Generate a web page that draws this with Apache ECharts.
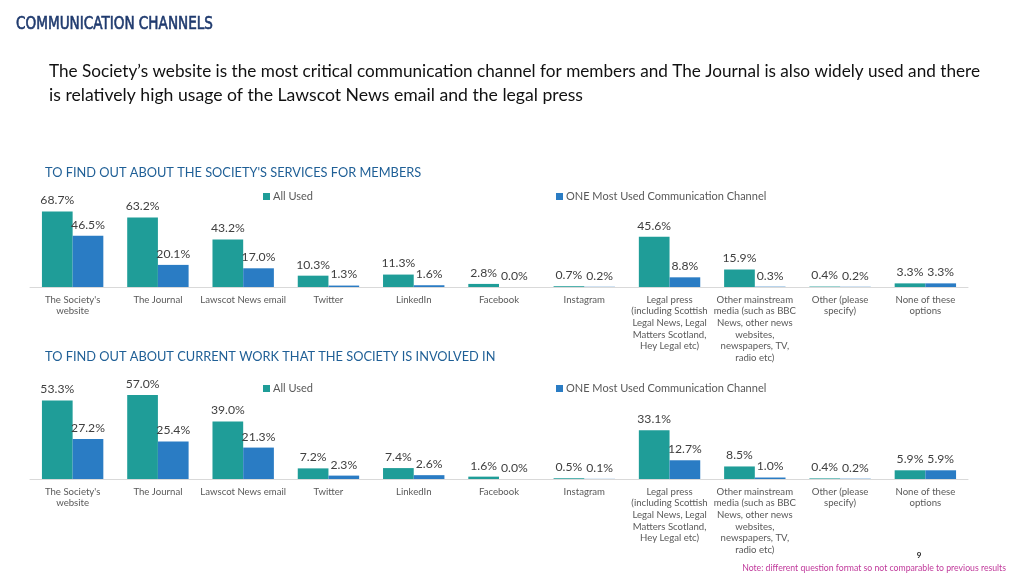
<!DOCTYPE html>
<html><head><meta charset="utf-8">
<script src="https://cdn.jsdelivr.net/npm/echarts@6/dist/echarts.min.js"></script>
<style>html,body{margin:0;padding:0;background:#fff}#c{width:1024px;height:576px}</style>
</head><body><div id="c"></div>
<script>
var categories = [
  "The Society's\nwebsite", "The Journal", "Lawscot News email", "Twitter", "LinkedIn",
  "Facebook", "Instagram",
  "Legal press\n(including Scottish\nLegal News, Legal\nMatters Scotland,\nHey Legal etc)",
  "Other mainstream\nmedia (such as BBC\nNews, other news\nwebsites,\nnewspapers, TV,\nradio etc)",
  "Other (please\nspecify)", "None of these\noptions"
];
var seriesNames = ["All Used", "ONE Most Used Communication Channel"];
var servicesAll = [68.7, 63.2, 43.2, 10.3, 11.3, 2.8, 0.7, 45.6, 15.9, 0.4, 3.3];
var servicesOne = [46.5, 20.1, 17.0, 1.3, 1.6, 0.0, 0.2, 8.8, 0.3, 0.2, 3.3];
var workAll = [53.3, 57.0, 39.0, 7.2, 7.4, 1.6, 0.5, 33.1, 8.5, 0.4, 5.9];
var workOne = [27.2, 25.4, 21.3, 2.3, 2.6, 0.0, 0.1, 12.7, 1.0, 0.2, 5.9];
var mainTitle = "COMMUNICATION CHANNELS";
var subtitle1 = "The Society\u2019s website is the most critical communication channel for members and The Journal is also widely used and there";
var subtitle2 = "is relatively high usage of the Lawscot News email and the legal press";
var section1 = "TO FIND OUT ABOUT THE SOCIETY'S SERVICES FOR MEMBERS";
var section2 = "TO FIND OUT ABOUT CURRENT WORK THAT THE SOCIETY IS INVOLVED IN";
var note = "Note: different question format so not comparable to previous results";
var pageNo = "9";

var TEAL = '#1F9D98', BLUE = '#2A7CC4';
var FONT = 'Lato, "Noto Sans", sans-serif';

// fit text to a target width by horizontal scaling (styling only)
var _cv = document.createElement('canvas').getContext('2d');
function fitScale(text, font, target) {
  _cv.font = font;
  var w = _cv.measureText(text).width;
  return w > 0 ? target / w : 1;
}

function xAxis(gi) {
  return {
    type: 'category', gridIndex: gi, data: categories,
    axisLine: { lineStyle: { color: '#D9D9D9', width: 1 } },
    axisTick: { show: false },
    axisLabel: { interval: 0, fontSize: 9.6, color: '#595959', lineHeight: 11.6, margin: 7, fontFamily: FONT }
  };
}
function yAxis(gi, max) {
  return { type: 'value', gridIndex: gi, min: 0, max: max, show: false, splitLine: { show: false } };
}
function bar(name, data, gi, color) {
  return {
    type: 'bar', name: name, data: data, xAxisIndex: gi, yAxisIndex: gi,
    barGap: '0%', barCategoryGap: '28%',
    itemStyle: { color: color },
    label: {
      show: true, position: 'top', distance: 5, fontSize: 12.2, color: '#404040', fontFamily: FONT,
      formatter: function (p) { return p.value.toFixed(1) + '%'; }
    }
  };
}
function legend(name, left, top) {
  return {
    data: [name], left: left, top: top, itemWidth: 7, itemHeight: 7, itemGap: 4,
    icon: 'rect', selectedMode: false,
    textStyle: { fontSize: 11, color: '#595959', fontFamily: FONT, padding: [0, 0, 0, -2] }
  };
}
function txt(text, x, y, font, fill, align, targetW, strokeW) {
  var el = { type: 'text', x: x, y: y, style: { text: text, font: font, fill: fill, textAlign: align || 'left', textVerticalAlign: 'middle' } };
  if (targetW) { el.scaleX = fitScale(text, font, targetW); }
  if (strokeW) { el.style.stroke = fill; el.style.lineWidth = strokeW; }
  return el;
}

var TITLE_FONT = '18px "Liberation Sans Narrow", "DejaVu Sans Condensed", sans-serif';
var SUB_FONT = '16.5px ' + FONT;

var chart = echarts.init(document.getElementById('c'), null, { renderer: 'canvas' });
chart.setOption({
  animation: false,
  backgroundColor: '#fff',
  grid: [
    { left: 30, right: 56, top: 210, height: 77 },
    { left: 30, right: 56, top: 390.5, height: 88.5 }
  ],
  xAxis: [xAxis(0), xAxis(1)],
  yAxis: [yAxis(0, 70), yAxis(1, 60)],
  legend: [
    legend(seriesNames[0], 258, 186),
    legend(seriesNames[1], 551, 186),
    legend(seriesNames[0], 258, 378),
    legend(seriesNames[1], 551, 378)
  ],
  series: [
    bar(seriesNames[0], servicesAll, 0, TEAL),
    bar(seriesNames[1], servicesOne, 0, BLUE),
    bar(seriesNames[0], workAll, 1, TEAL),
    bar(seriesNames[1], workOne, 1, BLUE)
  ],
  graphic: [
    txt(mainTitle, 16, 24, TITLE_FONT, '#1F3A6E', 'left', 197, 0.6),
    txt(subtitle1, 49, 72, SUB_FONT, '#111111', 'left', 931),
    txt(subtitle2, 49, 96, SUB_FONT, '#111111', 'left', 534),
    txt(section1, 45, 173, '12.8px ' + FONT, '#1F5F96'),
    txt(section2, 45, 357, '12.8px ' + FONT, '#1F5F96'),
    txt(pageNo, 919, 555, 'bold 8px ' + FONT, '#222222', 'center'),
    txt(note, 1006, 568, '8.7px ' + FONT, '#C0399B', 'right')
  ]
});
</script></body></html>
